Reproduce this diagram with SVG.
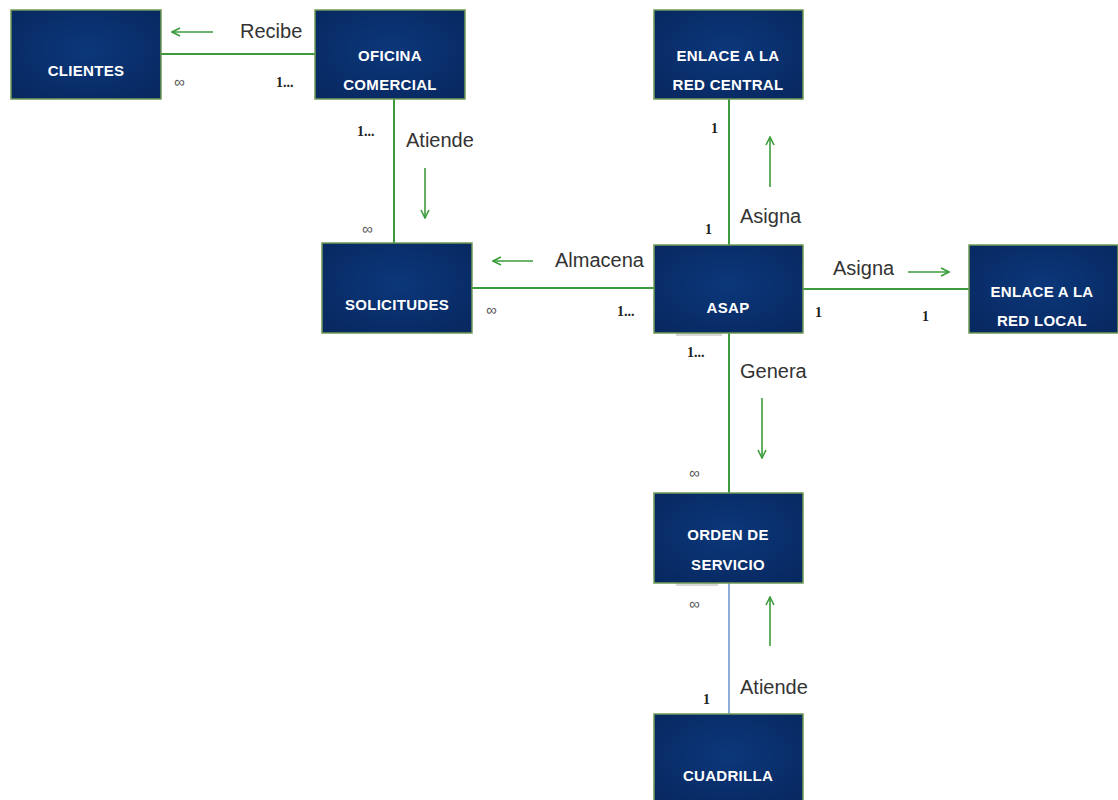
<svg xmlns="http://www.w3.org/2000/svg" width="1118" height="800" viewBox="0 0 1118 800">
  <defs>
    <radialGradient id="boxFill" cx="50%" cy="45%" r="70%">
      <stop offset="0" stop-color="#0b377a"/>
      <stop offset="1" stop-color="#082860"/>
    </radialGradient>
    <marker id="open" viewBox="0 0 10 10" refX="9" refY="5" markerWidth="10" markerHeight="10" markerUnits="userSpaceOnUse" orient="auto">
      <path d="M1,1 L9,5 L1,9" fill="none" stroke="#3c9c3c" stroke-width="1.6"/>
    </marker>
  </defs>
  <style>
    .box { fill: url(#boxFill); stroke: #6f9a55; stroke-width: 1.5; }
    .name { font-family: "Liberation Sans", Arial, sans-serif; font-weight: bold; font-size: 15px; fill: #ffffff; text-anchor: middle; letter-spacing: 0.3px; }
    .link { stroke: #3c9c3c; stroke-width: 2; fill: none; }
    .link-blue { stroke: #8fadd8; stroke-width: 2; fill: none; }
    .dir { stroke: #3c9c3c; stroke-width: 1.6; fill: none; marker-end: url(#open); }
    .verb { font-family: "Liberation Sans", Arial, sans-serif; font-size: 20px; fill: #333333; }
    .mult { font-family: "Liberation Serif", "Times New Roman", serif; font-weight: bold; font-size: 14px; fill: #222222; }
    .inf { font-family: "Liberation Sans", Arial, sans-serif; font-size: 15px; fill: #555555; }
    .shade { fill: #d8d8d8; }
  </style>

  <rect width="1118" height="800" fill="#ffffff"/>

  <!-- relationship lines, direction arrows, verbs and multiplicities -->
  <g id="connectors">
    <!-- Clientes - Oficina comercial -->
    <line class="link" x1="161" y1="54" x2="315" y2="54"/>
    <line class="dir" x1="213" y1="32" x2="172" y2="32"/>
    <text class="verb" x="240" y="38">Recibe</text>
    <text class="inf" x="174" y="87">∞</text>
    <text class="mult" x="276" y="87">1...</text>

    <!-- Oficina comercial - Solicitudes -->
    <line class="link" x1="394" y1="99" x2="394" y2="243"/>
    <line class="dir" x1="425" y1="168" x2="425" y2="218"/>
    <text class="verb" x="406" y="147">Atiende</text>
    <text class="mult" x="357" y="136">1...</text>
    <text class="inf" x="362" y="234">∞</text>

    <!-- ASAP - Solicitudes -->
    <line class="link" x1="472" y1="288" x2="654" y2="288"/>
    <line class="dir" x1="533" y1="261" x2="493" y2="261"/>
    <text class="verb" x="555" y="267">Almacena</text>
    <text class="inf" x="486" y="315">∞</text>
    <text class="mult" x="617" y="316">1...</text>

    <!-- ASAP - Enlace a la red central -->
    <line class="link" x1="729" y1="99" x2="729" y2="245"/>
    <line class="dir" x1="770" y1="187" x2="770" y2="137"/>
    <text class="verb" x="740" y="223">Asigna</text>
    <text class="mult" x="711" y="133">1</text>
    <text class="mult" x="705" y="234">1</text>

    <!-- ASAP - Enlace a la red local -->
    <line class="link" x1="803" y1="289" x2="969" y2="289"/>
    <line class="dir" x1="908" y1="272" x2="949" y2="272"/>
    <text class="verb" x="833" y="275">Asigna</text>
    <text class="mult" x="815" y="317">1</text>
    <text class="mult" x="922" y="321">1</text>

    <!-- ASAP - Orden de servicio -->
    <rect class="shade" x="676" y="333" width="46" height="3"/>
    <line class="link" x1="729" y1="333" x2="729" y2="493"/>
    <line class="dir" x1="762" y1="398" x2="762" y2="458"/>
    <text class="verb" x="740" y="378">Genera</text>
    <text class="mult" x="687" y="357">1...</text>
    <text class="inf" x="689" y="478">∞</text>

    <!-- Cuadrilla - Orden de servicio -->
    <rect class="shade" x="676" y="583" width="42" height="3"/>
    <line class="link-blue" x1="729" y1="583" x2="729" y2="714"/>
    <line class="dir" x1="770" y1="646" x2="770" y2="597"/>
    <text class="verb" x="740" y="694">Atiende</text>
    <text class="inf" x="689" y="609">∞</text>
    <text class="mult" x="703" y="704">1</text>
  </g>

  <g id="clientes">
    <rect class="box" x="11" y="10" width="150" height="89"/>
    <text class="name" x="86" y="76">CLIENTES</text>
  </g>

  <g id="oficina-comercial">
    <rect class="box" x="315" y="10" width="150" height="89"/>
    <text class="name" x="390" y="61">OFICINA</text>
    <text class="name" x="390" y="90">COMERCIAL</text>
  </g>

  <g id="solicitudes">
    <rect class="box" x="322" y="243" width="150" height="90"/>
    <text class="name" x="397" y="310">SOLICITUDES</text>
  </g>

  <g id="enlace-red-central">
    <rect class="box" x="654" y="10" width="149" height="89"/>
    <text class="name" x="728" y="61">ENLACE A LA</text>
    <text class="name" x="728" y="90">RED CENTRAL</text>
  </g>

  <g id="asap">
    <rect class="box" x="654" y="245" width="149" height="88"/>
    <text class="name" x="728" y="313">ASAP</text>
  </g>

  <g id="enlace-red-local">
    <rect class="box" x="969" y="245" width="149" height="88"/>
    <text class="name" x="1042" y="297">ENLACE A LA</text>
    <text class="name" x="1042" y="326">RED LOCAL</text>
  </g>

  <g id="orden-de-servicio">
    <rect class="box" x="654" y="493" width="149" height="90"/>
    <text class="name" x="728" y="540">ORDEN DE</text>
    <text class="name" x="728" y="570">SERVICIO</text>
  </g>

  <g id="cuadrilla">
    <rect class="box" x="654" y="714" width="149" height="90"/>
    <text class="name" x="728" y="781">CUADRILLA</text>
  </g>
</svg>
